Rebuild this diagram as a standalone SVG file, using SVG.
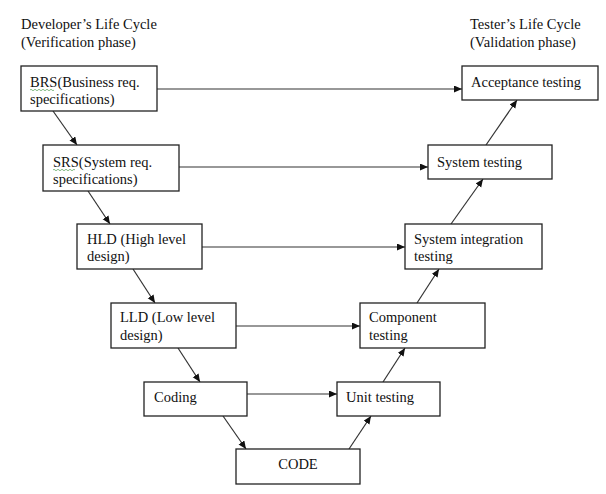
<svg xmlns="http://www.w3.org/2000/svg" width="606" height="494" viewBox="0 0 606 494">
<style>
  .box{fill:#fff;stroke:#222;stroke-width:1.3}
  .t{font-family:"Liberation Serif","Times New Roman",serif;font-size:14.5px;fill:#111}
  .c line{stroke:#333;stroke-width:1.2;marker-end:url(#ah)}
  .sq{fill:none;stroke:#6a6;stroke-width:0.8}
</style>
<defs>
  <marker id="ah" markerUnits="userSpaceOnUse" markerWidth="9" markerHeight="8" refX="8" refY="3.5" orient="auto">
    <path d="M0,0 L8,3.5 L0,7 z" fill="#111"/>
  </marker>
</defs>
<rect width="606" height="494" fill="#fff"/>
<g id="headers">
  <text class="t" x="21" y="29">Developer’s Life Cycle</text>
  <text class="t" x="21" y="47">(Verification phase)</text>
  <text class="t" x="470" y="29">Tester’s Life Cycle</text>
  <text class="t" x="470" y="47">(Validation phase)</text>
</g>
<g class="c" id="connectors">
  <line x1="157" y1="89" x2="462" y2="89"/>
  <line x1="179" y1="167" x2="428" y2="167"/>
  <line x1="202" y1="247" x2="405" y2="247"/>
  <line x1="236" y1="326" x2="360" y2="326"/>
  <line x1="247" y1="394" x2="337" y2="394"/>
  <line x1="53" y1="111" x2="77" y2="145"/>
  <line x1="88" y1="191" x2="110" y2="224"/>
  <line x1="133" y1="269" x2="155" y2="303"/>
  <line x1="178" y1="348" x2="200" y2="382"/>
  <line x1="223" y1="416" x2="246" y2="449"/>
  <line x1="349" y1="449" x2="371" y2="416"/>
  <line x1="383" y1="382" x2="405" y2="348"/>
  <line x1="417" y1="303" x2="439" y2="269"/>
  <line x1="451" y1="224" x2="483" y2="179"/>
  <line x1="486" y1="145" x2="517" y2="100"/>
</g>
<g id="brs">
  <rect class="box" x="21" y="66" width="136" height="45"/>
  <text class="t" x="30" y="87">BRS(Business req.</text>
  <text class="t" x="30" y="104">specifications)</text>
  <path class="sq" d="M30,90 q1,-1.5 2,0 t2,0 t2,0 t2,0 t2,0 t2,0 t2,0 t2,0 t2,0 t2,0 t2,0 t2,0"/>
</g>
<g id="srs">
  <rect class="box" x="43" y="145" width="136" height="46"/>
  <text class="t" x="53" y="167">SRS(System req.</text>
  <text class="t" x="53" y="184">specifications)</text>
  <path class="sq" d="M53,170 q1,-1.5 2,0 t2,0 t2,0 t2,0 t2,0 t2,0 t2,0 t2,0 t2,0 t2,0 t2,0"/>
</g>
<g id="hld">
  <rect class="box" x="77" y="224" width="125" height="45"/>
  <text class="t" x="87" y="244">HLD (High level</text>
  <text class="t" x="87" y="261">design)</text>
</g>
<g id="lld">
  <rect class="box" x="111" y="303" width="125" height="45"/>
  <text class="t" x="120" y="322">LLD (Low level</text>
  <text class="t" x="120" y="340">design)</text>
</g>
<g id="coding">
  <rect class="box" x="144" y="382" width="103" height="34"/>
  <text class="t" x="154" y="402">Coding</text>
</g>
<g id="code">
  <rect class="box" x="236" y="449" width="124" height="35"/>
  <text class="t" x="298" y="469" text-anchor="middle">CODE</text>
</g>
<g id="unit">
  <rect class="box" x="337" y="382" width="103" height="34"/>
  <text class="t" x="346" y="402">Unit testing</text>
</g>
<g id="component">
  <rect class="box" x="360" y="303" width="125" height="45"/>
  <text class="t" x="369" y="322">Component</text>
  <text class="t" x="369" y="340">testing</text>
</g>
<g id="sysint">
  <rect class="box" x="405" y="224" width="137" height="45"/>
  <text class="t" x="414" y="244">System integration</text>
  <text class="t" x="414" y="261">testing</text>
</g>
<g id="systest">
  <rect class="box" x="428" y="145" width="124" height="34"/>
  <text class="t" x="437" y="167">System testing</text>
</g>
<g id="acceptance">
  <rect class="box" x="462" y="66" width="136" height="34"/>
  <text class="t" x="471" y="87">Acceptance testing</text>
</g>
</svg>
